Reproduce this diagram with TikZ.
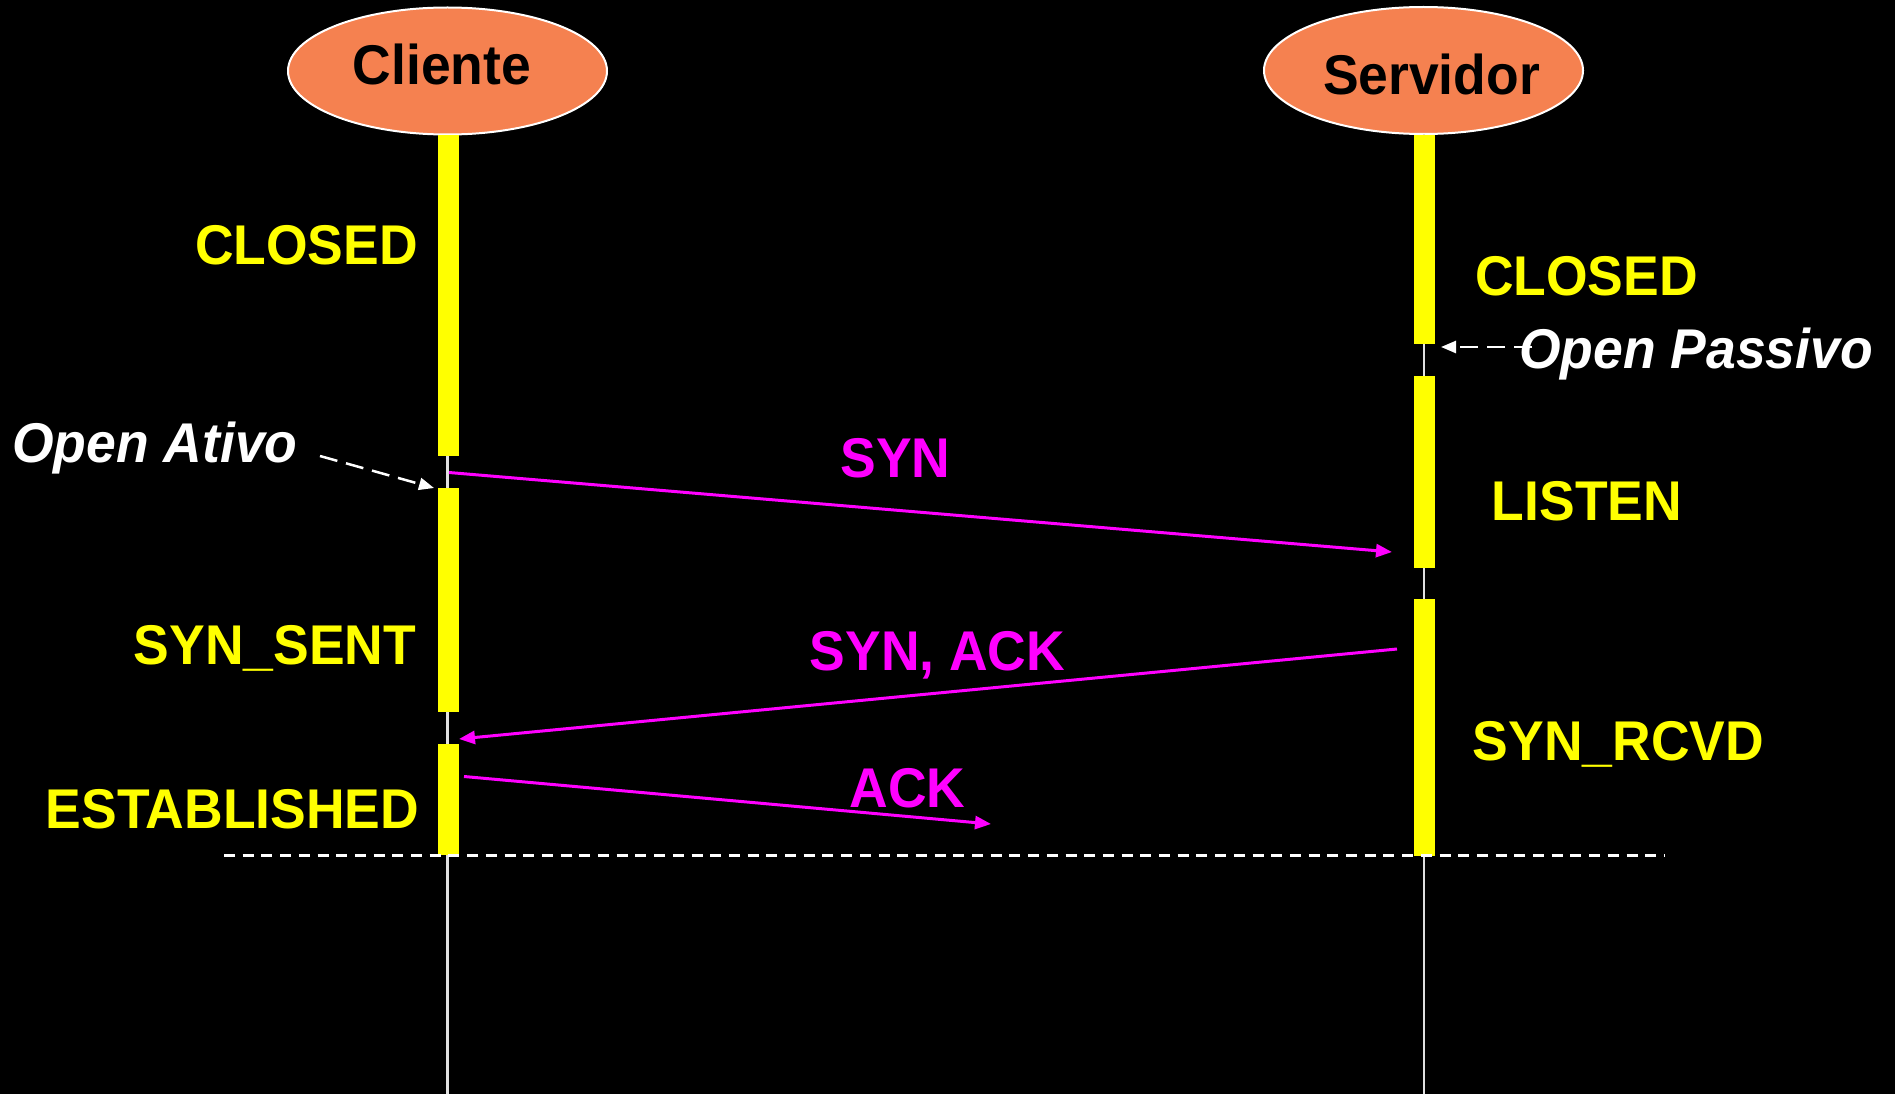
\documentclass[tikz,border=0pt]{standalone}
\usepackage{fontspec}
\newfontfamily\dfont{Liberation Sans}[FakeStretch=0.955]
\usetikzlibrary{arrows.meta,shapes.geometric}
\definecolor{peerfill}{RGB}{245,129,80}
\definecolor{statecol}{RGB}{255,255,0}
\definecolor{msgcol}{RGB}{255,0,255}
\definecolor{lifecol}{RGB}{225,225,225}

\begin{document}
\begin{tikzpicture}[x=1pt,y=-1pt,
  peer/.style={ellipse,draw=white,line width=2pt,fill=peerfill,
    minimum width=319pt,minimum height=127pt,inner sep=0pt},
  bigtext/.style={anchor=base,inner sep=0pt,font=\dfont\fontsize{56}{60}\selectfont\bfseries},
  peertext/.style={bigtext,text=black},
  statetext/.style={bigtext,text=statecol},
  msgtext/.style={bigtext,text=msgcol},
  opentext/.style={bigtext,text=white,font=\dfont\fontsize{56}{60}\selectfont\bfseries\itshape},
  lifeline/.style={draw=lifecol,line width=2.3pt},
  activebar/.style={fill=statecol},
  msgarrow/.style={draw=msgcol,line width=3pt,-{Triangle[length=16pt,width=13pt]}},
  openarrow/.style={draw=white,line width=2.5pt,dash pattern=on 18pt off 9pt,
    -{Triangle[length=15pt,width=12pt]}},
  endline/.style={draw=white,line width=2.7pt,dash pattern=on 11pt off 7.7pt}]

% background and page size
\fill[black] (0,0) rectangle (1895,1094);
\useasboundingbox (0,0) rectangle (1895,1094);

% participants
\node[peer] (cli) at (447.5,71) {};
\node[peer] (srv) at (1423.5,70.5) {};
\node[peertext] (clitxt) at (442,85) {Cliente};
\node[peertext] (srvtxt) at (1431.5,95) {Servidor};

% lifelines
\coordinate (cliend) at (447.5,1094);
\coordinate (srvend) at (1424,1094);
\draw[lifeline] (cli.south) -- (cliend);
\draw[lifeline] (1424,134) -- (srvend);

% activity bars of the client
\path[activebar] (437.5,135) rectangle (458.5,456);
\path[activebar] (437.5,488) rectangle (458.5,712);
\path[activebar] (437.5,744) rectangle (458.5,855);

% activity bars of the server
\path[activebar] (1413.5,135) rectangle (1434.5,344);
\path[activebar] (1413.5,376) rectangle (1434.5,568);
\path[activebar] (1413.5,599) rectangle (1434.5,856);

% end of the handshake
\coordinate (dl) at (224,855.5);
\coordinate (dr) at (1664,855.5);
\draw[endline] (dl) -- (dr);

% states
\node[statetext] (cclosed) at (306.5,264) {CLOSED};
\node[statetext] (csent) at (275,664) {SYN\_SENT};
\node[statetext] (cest) at (232.5,828) {ESTABLISHED};
\node[statetext] (sclosed) at (1586.5,295) {CLOSED};
\node[statetext] (slisten) at (1587,520) {LISTEN};
\node[statetext] (srcvd) at (1618.5,760) {SYN\_RCVD};

% open events
\node[opentext] (ativo) at (155,462) {Open Ativo};
\coordinate (ativoS) at (320,456);
\coordinate (ativoE) at (434,488);
\draw[openarrow] (ativoS) -- (ativoE);

\coordinate (passS) at (1532,347);
\coordinate (passE) at (1441,347);
\draw[openarrow] (passS) -- (passE);
\node[opentext] (passivo) at (1696,368) {Open Passivo};

% segments
\coordinate (synS) at (449,472.5);
\coordinate (synE) at (1392,552);
\draw[msgarrow] (synS) -- (synE);
\node[msgtext] (synlbl) at (895.5,477) {SYN};

\coordinate (saS) at (1397,649);
\coordinate (saE) at (459,739);
\draw[msgarrow] (saS) -- (saE);
\node[msgtext] (salbl) at (937.5,670) {SYN, ACK};

\coordinate (ackS) at (464,776.5);
\coordinate (ackE) at (991,824);
\draw[msgarrow] (ackS) -- (ackE);
\node[msgtext] (acklbl) at (907.5,807) {ACK};
\end{tikzpicture}
\end{document}
